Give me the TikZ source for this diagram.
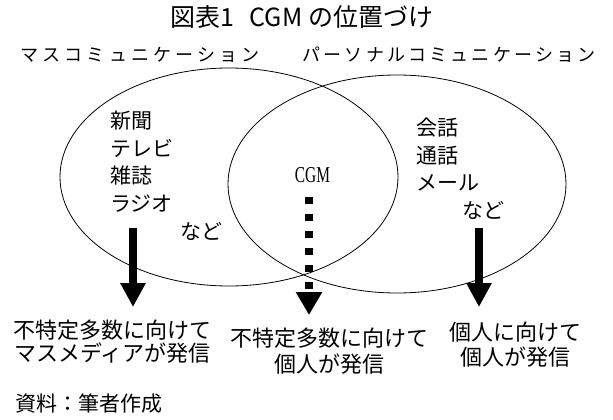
\documentclass[tikz,border=0pt]{standalone}
\usepackage{fontspec}
\setmainfont{Noto Sans CJK JP}
\newfontfamily\labA[LetterSpace=23]{Noto Sans CJK JP}
\newfontfamily\labB[LetterSpace=18]{Noto Sans CJK JP}
\newfontfamily\cgmfont{Liberation Serif}
\usetikzlibrary{shapes.geometric,arrows.meta}
\begin{document}
\begin{tikzpicture}[x=1pt,y=-1pt,
  setshape/.style={draw,ellipse,line width=0.8pt,minimum width=338pt,minimum height=218pt,inner sep=0pt},
  listtxt/.style={inner sep=0pt,anchor=west,align=left,font=\fontsize{21}{27.5}\selectfont},
  bottxt/.style={inner sep=0pt,align=center},
  bigarrow/.style={line width=8.5pt,-{Triangle[width=24pt,length=24pt]}},
  dasharrow/.style={line width=8pt,dash pattern=on 7pt off 10pt,-{Triangle[width=25pt,length=23pt]}}
]
\useasboundingbox (0,0) rectangle (613,420);
% title
\node[inner sep=0pt,font=\fontsize{25}{30}\selectfont] (title) at (302,17) {図表1\hspace{0.6em}CGM の位置づけ};
% top labels
\node[inner sep=0pt,font=\labA\fontsize{18}{20}\selectfont] (lmass) at (140,55) {マスコミュニケーション};
\node[inner sep=0pt,font=\labB\fontsize{18}{20}\selectfont] (lpers) at (449,55) {パーソナルコミュニケーション};
% ellipses
\node[setshape] (mass) at (229,177) {};
\node[setshape] (pers) at (397,184) {};
% inner lists
\node[listtxt] (mlist) at (110,161.5) {新聞\\テレビ\\雑誌\\ラジオ};
\node[inner sep=0pt,font=\fontsize{21}{25}\selectfont] (mnado) at (201,231) {など};
\node[listtxt] (plist) at (416,155) {会話\\通話\\メール};
\node[inner sep=0pt,font=\fontsize{21}{25}\selectfont] (pnado) at (483,210) {など};
\node[inner sep=0pt,font=\cgmfont\fontsize{22.7}{26}\selectfont] (cgm) at (312.5,175.5) {\scalebox{0.68}[1]{CGM}};
% arrows
\coordinate (la) at (133,228);
\coordinate (lb) at (133,307);
\coordinate (ma) at (309,197);
\coordinate (mb) at (309,315);
\coordinate (ra) at (479,228);
\coordinate (rb) at (479,307);
\draw[bigarrow] (la) -- (lb);
\draw[dasharrow] (ma) -- (mb);
\draw[bigarrow] (ra) -- (rb);
% bottom texts
\node[bottxt,font=\fontsize{22}{22.5}\selectfont] (lres) at (112.5,341.5) {不特定多数に向けて\\マスメディアが発信};
\node[bottxt,font=\fontsize{22}{26.5}\selectfont] (mres) at (329,351) {不特定多数に向けて\\個人が発信};
\node[bottxt,font=\fontsize{22}{25}\selectfont] (rres) at (515.5,344.5) {個人に向けて\\個人が発信};
\node[inner sep=0pt,anchor=west,font=\fontsize{21}{25}\selectfont] (src) at (15,404) {資料：筆者作成};
\end{tikzpicture}
\end{document}
